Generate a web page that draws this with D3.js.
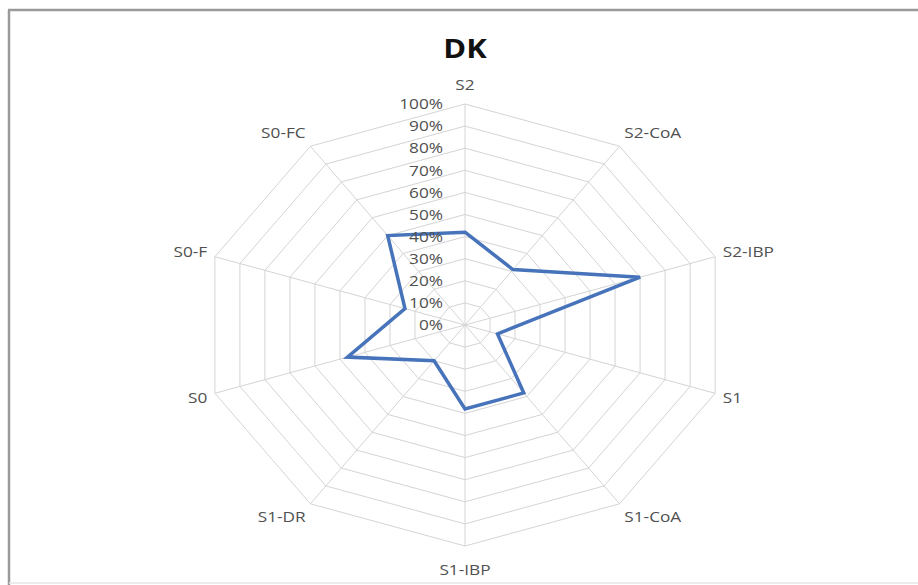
<!DOCTYPE html>
<html>
<head>
<meta charset="utf-8">
<script src="https://cdn.jsdelivr.net/npm/d3@7"></script>
<style>
  html, body { margin: 0; padding: 0; background: #fff; }
  svg { display: block; }
</style>
</head>
<body>
<svg id="chart" width="918" height="585"></svg>
<script>
// Radar chart data
const title = "DK";
const categories = ["S2", "S2-CoA", "S2-IBP", "S1", "S1-CoA", "S1-IBP", "S1-DR", "S0", "S0-F", "S0-FC"];
const values = [0.42, 0.31, 0.70, 0.13, 0.38, 0.38, 0.20, 0.47, 0.24, 0.50];
const tickValues = [0, 0.1, 0.2, 0.3, 0.4, 0.5, 0.6, 0.7, 0.8, 0.9, 1.0];
const tickLabels = ["0%", "10%", "20%", "30%", "40%", "50%", "60%", "70%", "80%", "90%", "100%"];

const svg = d3.select("#chart");
const W = 918, H = 585;
const cx = 465, cy = 325;
const stretch = 1.19;              // horizontal stretch of the plot
const rY = 221, rX = rY * stretch;

// Chart frame: strong top/left edges, faint bottom edge
svg.append("line").attr("x1", 8).attr("y1", 10).attr("x2", W).attr("y2", 10)
  .attr("stroke", "#9a9a9a").attr("stroke-width", 2.5);
svg.append("line").attr("x1", 9).attr("y1", 10).attr("x2", 9).attr("y2", H)
  .attr("stroke", "#9a9a9a").attr("stroke-width", 2.5);
svg.append("line").attr("x1", 9).attr("y1", 583).attr("x2", W).attr("y2", 583)
  .attr("stroke", "#e6e6e6").attr("stroke-width", 1.5);

const rx = d3.scaleLinear().domain([0, 1]).range([0, rX]);
const ry = d3.scaleLinear().domain([0, 1]).range([0, rY]);
const angle = d3.scalePoint().domain(categories).range([0, 2 * Math.PI * (categories.length - 1) / categories.length]);

const px = (c, v) => cx + rx(v) * Math.sin(angle(c));
const py = (c, v) => cy - ry(v) * Math.cos(angle(c));

const g = svg.append("g");

// Grid rings
g.selectAll("path.ring")
  .data(tickValues.filter(t => t > 0))
  .join("path")
  .attr("class", "ring")
  .attr("d", t => d3.line()(categories.map(c => [px(c, t), py(c, t)])) + "Z")
  .attr("fill", "none")
  .attr("stroke", "#d4d4d4")
  .attr("stroke-width", 1);

// Spokes
g.selectAll("line.spoke")
  .data(categories)
  .join("line")
  .attr("class", "spoke")
  .attr("x1", cx).attr("y1", cy)
  .attr("x2", c => px(c, 1)).attr("y2", c => py(c, 1))
  .attr("stroke", "#d4d4d4")
  .attr("stroke-width", 1);

// Series line
g.append("path")
  .datum(categories.map((c, i) => [px(c, values[i]), py(c, values[i])]))
  .attr("d", d => d3.line()(d) + "Z")
  .attr("fill", "none")
  .attr("stroke", "#4673ba")
  .attr("stroke-width", 3.5)
  .attr("stroke-linejoin", "miter");

// Value axis tick labels
g.selectAll("text.tick")
  .data(tickValues)
  .join("text")
  .attr("class", "tick")
  .attr("transform", (t) => `translate(${cx - 22},${cy - ry(t)}) scale(${stretch},1)`)
  .attr("dy", "0.36em")
  .attr("text-anchor", "end")
  .attr("font-family", "'Open Sans', sans-serif")
  .attr("font-size", 14.5)
  .attr("fill", "#505050")
  .text((t, i) => tickLabels[i]);

// Category labels
g.selectAll("text.cat")
  .data(categories)
  .join("text")
  .attr("class", "cat")
  .attr("transform", c => {
    const a = angle(c);
    const s = Math.sin(a), co = Math.cos(a);
    let lx = cx + (rX + 8) * s;
    let ly = cy - (rY + 16) * co;
    if (Math.abs(s) < 0.1) ly += co > 0 ? -3 : 8;
    return `translate(${lx},${ly}) scale(${stretch},1)`;
  })
  .attr("dy", "0.36em")
  .attr("text-anchor", c => {
    const s = Math.sin(angle(c));
    return Math.abs(s) < 0.1 ? "middle" : (s > 0 ? "start" : "end");
  })
  .attr("font-family", "'Open Sans', sans-serif")
  .attr("font-size", 14.5)
  .attr("fill", "#505050")
  .text(c => c);

// Title
svg.append("text")
  .attr("transform", `translate(${cx},58) scale(${stretch},1)`)
  .attr("text-anchor", "middle")
  .attr("font-family", "'Open Sans', sans-serif")
  .attr("font-weight", "bold")
  .attr("font-size", 26)
  .attr("fill", "#111")
  .text(title);
</script>
</body>
</html>
